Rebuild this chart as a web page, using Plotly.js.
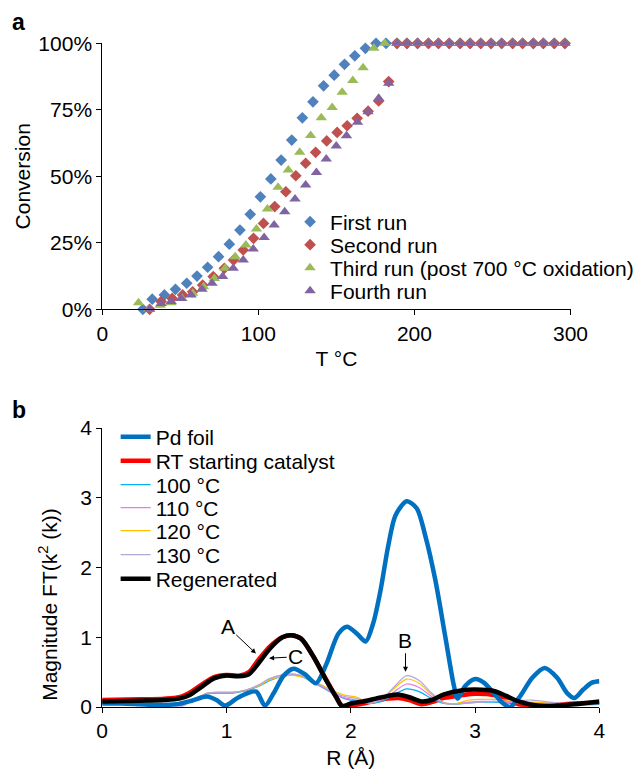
<!DOCTYPE html>
<html><head><meta charset="utf-8">
<script src="https://cdn.plot.ly/plotly-3.0.1.min.js"></script>
<style>html,body{margin:0;padding:0;background:#fff;} #chart{width:639px;height:769px;}</style>
</head><body><div id="chart"></div>
<script>
// ---------- Panel a: conversion vs temperature ----------
const runNames = ['First run', 'Second run', 'Third run (post 700 °C oxidation)', 'Fourth run'];
const firstT = [26, 32, 39.8, 46.9, 54.1, 60.7, 67.5, 74.5, 81.4, 88.2, 94.8, 101.3, 108, 114.6, 121.4, 128.2, 135, 141.8, 148.6, 155.2, 161.8, 168.6, 175.4, 181.8, 188.8, 195.2, 202, 209, 215.4, 222.3, 229.3, 235.7, 242.5, 249.1, 255.9, 262.9, 269.3, 276.2, 282.6, 289.6, 296.4];
const firstC = [0, 3.8, 5.4, 7.5, 9.8, 12.5, 15.8, 19.8, 24.5, 29.8, 35.7, 42.3, 49, 56.1, 63.6, 72, 78, 84, 88, 92.1, 95.3, 98.1, 100, 100, 100, 100, 100, 100, 100, 100, 100, 100, 100, 100, 100, 100, 100, 100, 100, 100, 100];
const secondT = [30.3, 37.7, 44.8, 51.5, 57.9, 64.3, 71.1, 78.2, 84.1, 90.3, 96.9, 103.3, 110.5, 117.6, 124, 130.3, 136.7, 143.8, 150.5, 156.9, 163.3, 170.3, 177.1, 183.5, 188.8, 195.2, 202, 209, 215.4, 222.3, 229.3, 235.7, 242.5, 249.1, 255.9, 262.9, 269.3, 276.2, 282.6, 289.6, 296.4];
const secondC = [0, 2.9, 4.1, 5.4, 6.6, 9.1, 12.3, 15.4, 18.5, 22.3, 26.7, 32.3, 38.6, 44.2, 50.2, 54.9, 59, 63.3, 66.5, 69, 71.8, 74.5, 78.3, 85.6, 100, 100, 100, 100, 100, 100, 100, 100, 100, 100, 100, 100, 100, 100, 100, 100, 100];
const thirdT = [23.2, 29.8, 37.1, 44.1, 51.1, 57.9, 64.9, 71.8, 78.6, 85.2, 92, 98.8, 105.8, 112.6, 119.2, 126.5, 133.5, 140.3, 147.3, 153.7, 160.5, 167.1, 174, 181, 188.8, 195.2, 202, 209, 215.4, 222.3, 229.3, 235.7, 242.5, 249.1, 255.9, 262.9, 269.3, 276.2, 282.6, 289.6, 296.4];
const thirdC = [2.5, 0, 1.5, 2.5, 4.1, 6, 8.5, 11.6, 15.4, 19.8, 24.2, 30.2, 37.7, 45.9, 52.4, 59, 65.3, 72, 75.9, 81.6, 86, 90.8, 98.1, 100, 100, 100, 100, 100, 100, 100, 100, 100, 100, 100, 100, 100, 100, 100, 100, 100, 100];
const fourthT = [30.3, 37.7, 44.1, 50.5, 56.9, 63.9, 70.3, 77.1, 83.9, 90.3, 96.7, 103.7, 110.1, 116.9, 123.5, 130.3, 137.2, 143.5, 149.9, 156.5, 163.5, 170.3, 177.1, 183.5, 188.8, 195.2, 202, 209, 215.4, 222.3, 229.3, 235.7, 242.5, 249.1, 255.9, 262.9, 269.3, 276.2, 282.6, 289.6, 296.4];
const fourthC = [0, 2.2, 2.9, 4.1, 5.4, 7.5, 9.8, 12.3, 15.4, 18.5, 22.7, 27, 31.7, 36.7, 41.5, 46.7, 51.4, 56.5, 61.4, 65.2, 70.3, 74.3, 79.3, 85, 100, 100, 100, 100, 100, 100, 100, 100, 100, 100, 100, 100, 100, 100, 100, 100, 100];
const convTicks = [0, 25, 50, 75, 100];
const convTickText = ['0%', '25%', '50%', '75%', '100%'];
const tempTicks = [0, 100, 200, 300];

// ---------- Panel b: EXAFS Fourier transform ----------
const ftNames = ['Pd foil', 'RT starting catalyst', '100 °C', '110 °C', '120 °C', '130 °C', 'Regenerated'];
const pdR = [0, 0.15, 0.3, 0.45, 0.6, 0.72, 0.84, 0.92, 0.99, 1.08, 1.17, 1.24, 1.31, 1.38, 1.46, 1.54, 1.63, 1.72, 1.8, 1.9, 1.97, 2.05, 2.12, 2.18, 2.24, 2.3, 2.36, 2.45, 2.53, 2.6, 2.68, 2.76, 2.83, 2.86, 2.92, 3.0, 3.07, 3.15, 3.22, 3.28, 3.36, 3.46, 3.56, 3.66, 3.74, 3.8, 3.87, 3.94, 4.0];
const pdFT = [0.05, 0.05, 0.04, 0.03, 0.04, 0.09, 0.15, 0.1, 0.02, 0.12, 0.2, 0.22, 0.02, 0.2, 0.45, 0.55, 0.47, 0.34, 0.6, 1.05, 1.15, 1.05, 0.94, 1.2, 1.68, 2.3, 2.75, 2.95, 2.85, 2.45, 1.82, 1.01, 0.3, 0.12, 0.3, 0.4, 0.35, 0.2, 0.06, 0.0, 0.15, 0.42, 0.56, 0.42, 0.2, 0.13, 0.25, 0.35, 0.37];
const catR = [0, 0.3, 0.5, 0.62, 0.7, 0.8, 0.9, 1.0, 1.1, 1.18, 1.25, 1.35, 1.45, 1.52, 1.6, 1.7, 1.8, 1.88, 1.93, 2.0, 2.1, 2.2, 2.3, 2.38, 2.47, 2.57, 2.65, 2.75, 2.9, 3.0, 3.15, 3.25, 3.35, 3.5, 3.65, 3.8, 4.0];
const rtFT = [0.1, 0.11, 0.12, 0.14, 0.2, 0.32, 0.43, 0.46, 0.45, 0.5, 0.66, 0.87, 1.0, 1.03, 0.98, 0.72, 0.4, 0.15, 0.02, 0.02, 0.05, 0.09, 0.12, 0.13, 0.1, 0.04, 0.07, 0.13, 0.17, 0.19, 0.17, 0.1, 0.04, 0.02, 0.03, 0.05, 0.06];
const regenFT = [0.08, 0.09, 0.1, 0.12, 0.17, 0.29, 0.41, 0.45, 0.44, 0.47, 0.61, 0.84, 1.0, 1.03, 0.98, 0.72, 0.39, 0.15, 0.01, 0.05, 0.08, 0.12, 0.16, 0.18, 0.14, 0.08, 0.1, 0.18, 0.24, 0.25, 0.23, 0.16, 0.08, 0.02, 0.02, 0.04, 0.08];
const tempR = [0, 0.2, 0.4, 0.55, 0.65, 0.75, 0.85, 0.95, 1.05, 1.15, 1.25, 1.35, 1.45, 1.55, 1.65, 1.75, 1.85, 1.95, 2.05, 2.15, 2.25, 2.35, 2.45, 2.55, 2.65, 2.75, 2.85, 2.95, 3.05, 3.15, 3.25, 3.35, 3.45, 3.55, 3.65, 3.8, 4.0];
const ft100 = [0.05, 0.05, 0.05, 0.04, 0.03, 0.12, 0.19, 0.2, 0.2, 0.23, 0.29, 0.38, 0.44, 0.46, 0.4, 0.3, 0.2, 0.12, 0.08, 0.05, 0.08, 0.18, 0.26, 0.22, 0.12, 0.05, 0.04, 0.06, 0.07, 0.07, 0.06, 0.05, 0.05, 0.05, 0.05, 0.04, 0.04];
const ft110 = [0.04, 0.04, 0.04, 0.03, 0.02, 0.12, 0.2, 0.21, 0.21, 0.24, 0.3, 0.4, 0.46, 0.47, 0.41, 0.31, 0.21, 0.13, 0.1, 0.06, 0.1, 0.22, 0.33, 0.28, 0.15, 0.06, 0.05, 0.07, 0.08, 0.08, 0.07, 0.06, 0.06, 0.06, 0.05, 0.05, 0.05];
const ft120 = [0.05, 0.05, 0.05, 0.04, 0.03, 0.12, 0.2, 0.21, 0.21, 0.24, 0.3, 0.39, 0.44, 0.45, 0.41, 0.33, 0.24, 0.17, 0.14, 0.06, 0.12, 0.27, 0.4, 0.34, 0.18, 0.06, 0.05, 0.1, 0.11, 0.11, 0.1, 0.08, 0.07, 0.06, 0.05, 0.05, 0.05];
const ft130 = [0.04, 0.04, 0.04, 0.03, 0.02, 0.12, 0.2, 0.21, 0.21, 0.24, 0.31, 0.41, 0.46, 0.47, 0.42, 0.32, 0.22, 0.15, 0.12, 0.06, 0.12, 0.29, 0.45, 0.38, 0.2, 0.06, 0.04, 0.06, 0.07, 0.08, 0.08, 0.09, 0.1, 0.08, 0.06, 0.05, 0.05];
const rTicks = [0, 1, 2, 3, 4];
const ftTicks = [0, 1, 2, 3, 4];

const FONT = '"Liberation Sans", Arial, Helvetica, sans-serif';
const W = 639, H = 769;
function leg(xpx, ypx) {
  return {visible: true, x: xpx / W, y: 1 - ypx / H, xanchor: 'left', yanchor: 'middle',
          bgcolor: 'rgba(0,0,0,0)', borderwidth: 0, font: {family: FONT, size: 21, color: '#000'},
          itemclick: false, itemdoubleclick: false};
}

const runColors = ['#4F81BD', '#C0504D', '#9BBB59', '#8064A2'];
const runSymbols = ['diamond', 'diamond', 'triangle-up', 'triangle-up'];
const runSizes = [9, 9, 10, 10];
const runX = [firstT, secondT, thirdT, fourthT];
const runY = [firstC, secondC, thirdC, fourthC];
const runLeg = ['legend', 'legend2', 'legend3', 'legend4'];

const traces = [];
for (let i = 0; i < 4; i++) {
  traces.push({
    type: 'scatter', mode: 'markers', x: runX[i], y: runY[i], name: runNames[i],
    xaxis: 'x', yaxis: 'y', legend: runLeg[i], showlegend: true, cliponaxis: false,
    marker: {symbol: runSymbols[i], size: runSizes[i], color: runColors[i], line: {width: 0}}
  });
}

const ftX = [pdR, catR, tempR, tempR, tempR, tempR, catR];
const ftY = [pdFT, rtFT, ft100, ft110, ft120, ft130, regenFT];
const ftColors = ['#0070C0', '#FF0000', '#00B0F0', '#E87CE8', '#FFC000', '#B4A7D6', '#000000'];
const ftWidths = [4.5, 4.5, 1.2, 1.2, 1.2, 1.2, 4.5];
const ftLeg = ['legend5', 'legend6', 'legend7', 'legend8', 'legend9', 'legend10', 'legend11'];
const drawOrder = [1, 2, 3, 4, 5, 0, 6];
for (const i of drawOrder) {
  traces.push({
    type: 'scatter', mode: 'lines', x: ftX[i], y: ftY[i], name: ftNames[i],
    xaxis: 'x2', yaxis: 'y2', legend: ftLeg[i], showlegend: true, cliponaxis: true,
    line: {color: ftColors[i], width: ftWidths[i], shape: 'spline', smoothing: 0.8}
  });
}

const axisCommon = {
  showline: true, linecolor: '#000', linewidth: 1, ticks: 'outside', ticklen: 5,
  tickcolor: '#000', tickwidth: 1, showgrid: false, zeroline: false, tickmode: 'array',
  tickfont: {family: FONT, size: 21, color: '#000'}, fixedrange: true
};

const annFont = {family: FONT, size: 21, color: '#000'};
const layout = {
  width: W, height: H, margin: {l: 0, r: 0, t: 0, b: 0},
  showlegend: true,
  paper_bgcolor: '#fff', plot_bgcolor: '#fff',
  font: {family: FONT, size: 21, color: '#000'},
  xaxis: Object.assign({}, axisCommon, {
    domain: [102.6 / W, 572.3 / W], range: [0, 300], tickvals: tempTicks, anchor: 'y',
    title: {text: 'T °C', font: {family: FONT, size: 21, color: '#000'}, standoff: 7}
  }),
  yaxis: Object.assign({}, axisCommon, {
    domain: [1 - 309.3 / H, 1 - 43.3 / H], range: [0, 100], tickvals: convTicks, ticktext: convTickText, anchor: 'x',
    title: {text: 'Conversion', font: {family: FONT, size: 21, color: '#000'}, standoff: 2}
  }),
  xaxis2: Object.assign({}, axisCommon, {
    domain: [102.5 / W, 601.3 / W], range: [0, 4], tickvals: rTicks, anchor: 'y2',
    title: {text: 'R (Å)', font: {family: FONT, size: 21, color: '#000'}, standoff: 10}
  }),
  yaxis2: Object.assign({}, axisCommon, {
    domain: [1 - 707 / H, 1 - 428 / H], range: [0, 4], tickvals: ftTicks, anchor: 'x2'
  }),
  legend: leg(291, 222), legend2: leg(291, 245), legend3: leg(291, 268), legend4: leg(291, 291),
  legend5: leg(116, 437), legend6: leg(116, 461), legend7: leg(116, 485), legend8: leg(116, 508),
  legend9: leg(116, 531), legend10: leg(116, 555), legend11: leg(116, 579),
  annotations: [
    {xref: 'paper', yref: 'paper', x: 10 / W, y: 1 - 22 / H, xanchor: 'left', yanchor: 'middle',
     text: '<b>a</b>', showarrow: false, font: {family: FONT, size: 23, color: '#000'}},
    {xref: 'paper', yref: 'paper', x: 10 / W, y: 1 - 410 / H, xanchor: 'left', yanchor: 'middle',
     text: '<b>b</b>', showarrow: false, font: {family: FONT, size: 23, color: '#000'}},
    {xref: 'paper', yref: 'paper', x: 48 / W, y: 1 - 604 / H, xanchor: 'center', yanchor: 'middle',
     textangle: -90, text: 'Magnitude FT(k<sup>2</sup> (k))', showarrow: false, font: annFont},
    {xref: 'x2', yref: 'y2', axref: 'x2', ayref: 'y2', x: 1.237, y: 0.767, ax: 1.01, ay: 1.15,
     text: 'A', showarrow: true, arrowhead: 2, arrowsize: 1, arrowwidth: 1, arrowcolor: '#000', font: annFont},
    {xref: 'x2', yref: 'y2', axref: 'x2', ayref: 'y2', x: 1.343, y: 0.70, ax: 1.557, ay: 0.72,
     text: 'C', showarrow: true, arrowhead: 2, arrowsize: 1, arrowwidth: 1, arrowcolor: '#000', font: annFont},
    {xref: 'x2', yref: 'y2', axref: 'x2', ayref: 'y2', x: 2.44, y: 0.504, ax: 2.44, ay: 0.957,
     text: 'B', showarrow: true, arrowhead: 2, arrowsize: 1, arrowwidth: 1, arrowcolor: '#000', font: annFont}
  ]
};

Plotly.newPlot('chart', traces, layout, {displayModeBar: false, staticPlot: true});
</script>
</body></html>
